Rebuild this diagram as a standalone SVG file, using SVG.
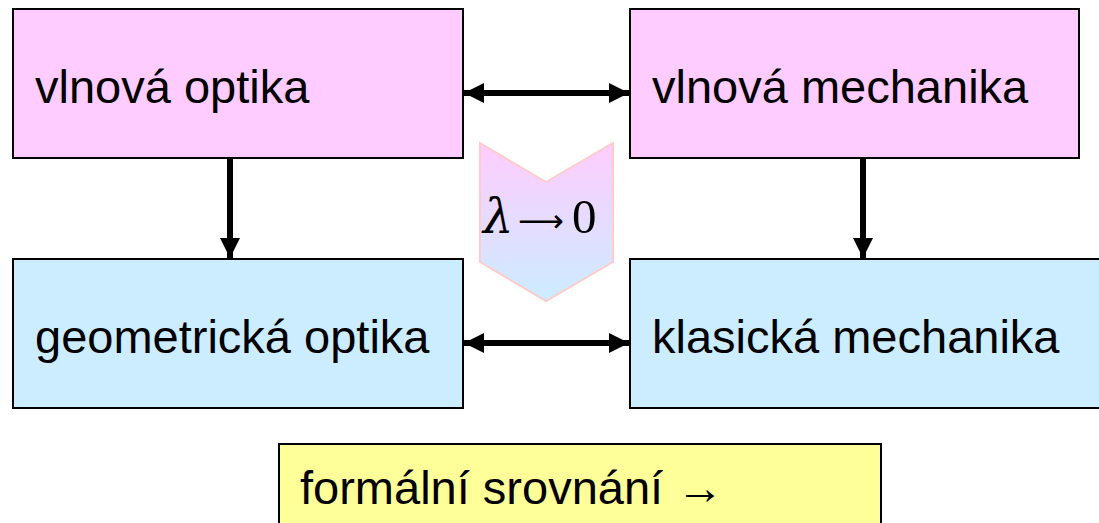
<svg xmlns="http://www.w3.org/2000/svg" width="1099" height="523" viewBox="0 0 1099 523">
<style>
.box{stroke:#000;stroke-width:2}
.pink{fill:#FFCCFF}
.blue{fill:#CCECFF}
.yellow{fill:#FFFF99}
.lbl{font-family:"Liberation Sans",Arial,sans-serif;font-size:47px;fill:#000}
.con{stroke:#000;stroke-width:6;fill:none}
.math{font-family:"Liberation Serif","Times New Roman",serif;font-size:49px;fill:#000}
</style>
<defs>
<linearGradient id="g" x1="0" y1="0" x2="0" y2="1">
<stop offset="0" stop-color="#FFCCFF"/>
<stop offset="1" stop-color="#CCECFF"/>
</linearGradient>
<marker id="ah" viewBox="0 0 20 20" refX="20" refY="10" markerWidth="20" markerHeight="20" markerUnits="userSpaceOnUse" orient="auto-start-reverse">
<path d="M0,0 L20,10 L0,20 Z" fill="#000"/>
</marker>
</defs>
<g id="chevron">
<path d="M480,143 L546,182 L613,143 L613,262 L546,301 L480,262 Z" fill="url(#g)" stroke="#FFCCCC" stroke-width="2"/>
<text class="math" y="233"><tspan x="483" font-family="'DejaVu Serif',serif" font-style="italic" font-size="48">λ</tspan><tspan x="518" y="232" font-family="'DejaVu Sans',sans-serif" font-size="32">⟶</tspan><tspan x="572" y="233">0</tspan></text>
</g>
<g id="vlnova-optika">
<rect class="box pink" x="13" y="9" width="450" height="149"/>
<text class="lbl" x="35" y="103">vlnová optika</text>
</g>
<g id="vlnova-mechanika">
<rect class="box pink" x="630" y="9" width="449" height="149"/>
<text class="lbl" x="652" y="103">vlnová mechanika</text>
</g>
<g id="geometricka-optika">
<rect class="box blue" x="13" y="259" width="450" height="149"/>
<text class="lbl" x="35" y="353">geometrická optika</text>
</g>
<g id="klasicka-mechanika">
<rect class="box blue" x="630" y="259" width="480" height="149"/>
<text class="lbl" x="652" y="353">klasická mechanika</text>
</g>
<g id="formalni">
<rect class="box yellow" x="279" y="444" width="602" height="90"/>
<text class="lbl" x="300" y="504">formální srovnání →</text>
</g>
<g id="connectors">
<line class="con" x1="464" y1="93" x2="629" y2="93" marker-start="url(#ah)" marker-end="url(#ah)"/>
<line class="con" x1="464" y1="343" x2="629" y2="343" marker-start="url(#ah)" marker-end="url(#ah)"/>
<line class="con" x1="230" y1="159" x2="230" y2="258" marker-end="url(#ah)"/>
<line class="con" x1="863" y1="159" x2="863" y2="258" marker-end="url(#ah)"/>
</g>
</svg>
